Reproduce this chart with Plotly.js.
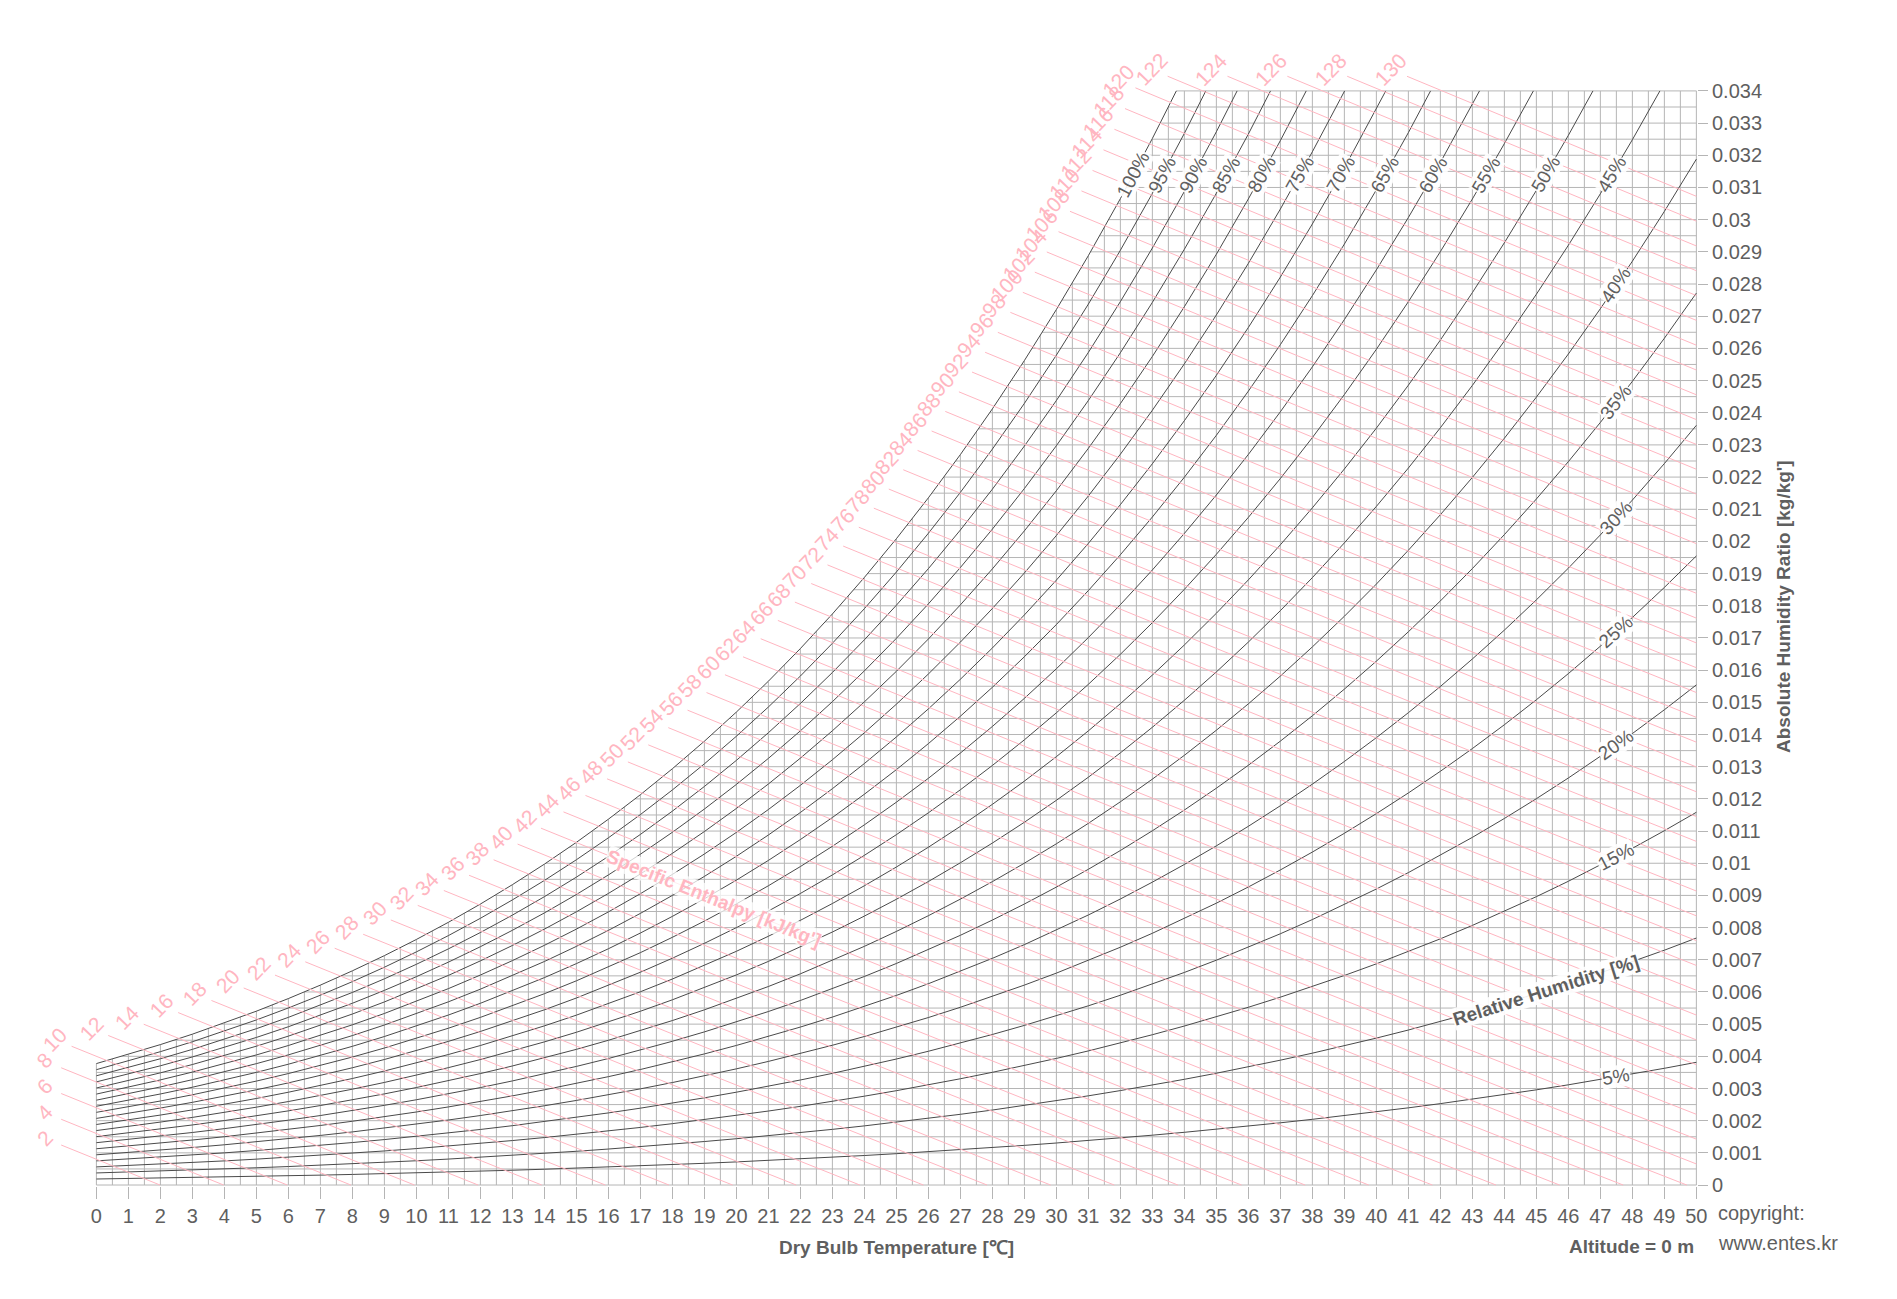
<!DOCTYPE html>
<html>
<head>
<meta charset="utf-8">
<script src="https://cdn.plot.ly/plotly-3.0.1.min.js"></script>
<style>
  html, body { margin: 0; padding: 0; background: #fff; }
  #chart { width: 1897px; height: 1299px; }
</style>
</head>
<body>
<div id="chart"></div>
<script>
/* Psychrometric chart, sea level (101.325 kPa).
 *
 * Saturation pressure is kept as a table per whole degree; every curve is
 * built from it with the usual humidity-ratio and enthalpy relations.
 */

// dry bulb temperatures of the table [°C]
const TEMPS = [
  0, 1, 2, 3, 4, 5, 6, 7, 8, 9, 10, 11, 12, 13, 14, 15, 16, 17, 18, 19, 20,
  21, 22, 23, 24, 25, 26, 27, 28, 29, 30, 31, 32, 33, 34, 35, 36, 37, 38, 39,
  40, 41, 42, 43, 44, 45, 46, 47, 48, 49, 50,
];

// saturation vapour pressure at those temperatures [kPa]
const SAT_PRESSURE = [
  0.6112, 0.6571, 0.7060, 0.7581, 0.8135, 0.8726, 0.9354, 1.0021, 1.0730,
  1.1482, 1.2282, 1.3129, 1.4028, 1.4981, 1.5989, 1.7057, 1.8188, 1.9383,
  2.0647, 2.1982, 2.3392, 2.4881, 2.6452, 2.8109, 2.9856, 3.1697, 3.3637,
  3.5679, 3.7828, 4.0089, 4.2467, 4.4966, 4.7592, 5.0351, 5.3247, 5.6286,
  5.9475, 6.2818, 6.6324, 6.9997, 7.3844, 7.7873, 8.2090, 8.6503, 9.1118,
  9.5944, 10.0988, 10.6259, 11.1764, 11.7512, 12.3513,
];

const RH_LEVELS = [5, 10, 15, 20, 25, 30, 35, 40, 45, 50, 55, 60, 65, 70, 75, 80, 85, 90, 95, 100];

const ENTHALPY_LEVELS = [
  2, 4, 6, 8, 10, 12, 14, 16, 18, 20, 22, 24, 26, 28, 30, 32, 34, 36, 38, 40,
  42, 44, 46, 48, 50, 52, 54, 56, 58, 60, 62, 64, 66, 68, 70, 72, 74, 76, 78,
  80, 82, 84, 86, 88, 90, 92, 94, 96, 98, 100, 102, 104, 106, 108, 110, 112,
  114, 116, 118, 120, 122, 124, 126, 128, 130,
];

const RATIO_TICKS = [
  0, 0.001, 0.002, 0.003, 0.004, 0.005, 0.006, 0.007, 0.008, 0.009, 0.01,
  0.011, 0.012, 0.013, 0.014, 0.015, 0.016, 0.017, 0.018, 0.019, 0.02, 0.021,
  0.022, 0.023, 0.024, 0.025, 0.026, 0.027, 0.028, 0.029, 0.03, 0.031, 0.032,
  0.033, 0.034,
];
const RATIO_TICK_TEXT = RATIO_TICKS.map((v) => String(v));

const PRESSURE = 101.325;
const W_TOP = 0.034;
const T_MAX = 50;

// --- page geometry ---
const WIDTH = 1897;
const HEIGHT = 1299;
const MARGIN = { l: 26, r: 200, t: 33, b: 113, pad: 0 };
const X_RANGE = [-2.2, 50.02];
const Y_RANGE = [-0.00003, 0.0358];
const PX_C = (WIDTH - MARGIN.l - MARGIN.r) / (X_RANGE[1] - X_RANGE[0]);
const PX_W = (HEIGHT - MARGIN.t - MARGIN.b) / (Y_RANGE[1] - Y_RANGE[0]);

// the original uses a narrow Arial; Liberation Sans is the closest installed
const FONT = "'Liberation Sans', Arial, sans-serif";
const SIZE = 19;
const TEXT = "#5f5f5f";
const GRID = "#b5b5b5";
const PINK = "#ffb6c1";
const RH_LINE = "#4a4a4a";

function ratio(pw) {
  return 0.621945 * pw / (PRESSURE - pw);
}
function enthalpy(t, w) {
  return 1.006 * t + w * (2501 + 1.86 * t);
}

// one RH curve, cut where it leaves the top of the chart
function rhCurve(rh) {
  const xs = [], ys = [];
  for (let i = 0; i < TEMPS.length; i++) {
    const w = ratio(rh / 100 * SAT_PRESSURE[i]);
    if (w > W_TOP) {
      if (i > 0) {
        const w0 = ys[ys.length - 1];
        const s = (W_TOP - w0) / (w - w0);
        xs.push(TEMPS[i - 1] + s * (TEMPS[i] - TEMPS[i - 1]));
        ys.push(W_TOP);
      }
      break;
    }
    xs.push(TEMPS[i]);
    ys.push(w);
  }
  return { x: xs, y: ys };
}

const curves = RH_LEVELS.map(rhCurve);
const sat = curves[curves.length - 1];

// where an enthalpy line leaves the chart on the upper-left side
function enthalpyStart(h) {
  if (h <= enthalpy(sat.x[0], sat.y[0])) {
    return { t: 0, w: h / 2501 };
  }
  for (let i = 1; i < sat.x.length; i++) {
    const h0 = enthalpy(sat.x[i - 1], sat.y[i - 1]);
    const h1 = enthalpy(sat.x[i], sat.y[i]);
    if (h <= h1) {
      const s = (h - h0) / (h1 - h0);
      return {
        t: sat.x[i - 1] + s * (sat.x[i] - sat.x[i - 1]),
        w: sat.y[i - 1] + s * (sat.y[i] - sat.y[i - 1]),
      };
    }
  }
  return { t: (h - W_TOP * 2501) / (1.006 + W_TOP * 1.86), w: W_TOP };
}

const traces = [];

// grid: 0.5 °C by 0.0005 kg/kg'
(function () {
  const xs = [], ys = [];
  for (let k = 0; k <= T_MAX * 2; k++) {
    xs.push(k / 2, k / 2, null);
    ys.push(0, W_TOP, null);
  }
  for (let j = 0; j <= 68; j++) {
    xs.push(0, T_MAX, null);
    ys.push(j * 0.0005, j * 0.0005, null);
  }
  traces.push({
    x: xs, y: ys, type: "scatter", mode: "lines",
    line: { color: GRID, width: 1 }, hoverinfo: "skip", showlegend: false,
  });
})();

// blank out the grid above the saturation curve
(function () {
  const last = sat.x.length - 1;
  const xs = [-0.15].concat(sat.x, [sat.x[last], -0.15]);
  const ys = [sat.y[0]].concat(sat.y, [W_TOP + 0.0002, W_TOP + 0.0002]);
  traces.push({
    x: xs, y: ys, type: "scatter", mode: "lines", fill: "toself",
    fillcolor: "#ffffff", line: { width: 0, color: "#ffffff" },
    hoverinfo: "skip", showlegend: false,
  });
})();

// relative humidity curves
curves.forEach(function (c) {
  traces.push({
    x: c.x, y: c.y, type: "scatter", mode: "lines",
    line: { color: RH_LINE, width: 1 }, hoverinfo: "skip", showlegend: false,
  });
});

const annotations = [];

// enthalpy lines, stretched a little past the chart edge to their label
const EXT_PX = 38;
const LABEL_PX = 18;
ENTHALPY_LEVELS.forEach(function (h) {
  const start = enthalpyStart(h);
  const slope = -(1.006 + 1.86 * start.w) / (2501 + 1.86 * start.t);
  const unit = Math.hypot(PX_C, slope * PX_W);
  const dt = EXT_PX / unit;
  const xs = [start.t - dt];
  const ys = [start.w - slope * dt];
  xs.push(start.t);
  ys.push(start.w);
  const tEnd = Math.min(h / 1.006, T_MAX);
  for (let t = Math.floor(start.t) + 1; t < tEnd; t++) {
    xs.push(t);
    ys.push((h - 1.006 * t) / (2501 + 1.86 * t));
  }
  xs.push(tEnd);
  ys.push(Math.max(0, (h - 1.006 * tEnd) / (2501 + 1.86 * tEnd)));
  traces.push({
    x: xs, y: ys, type: "scatter", mode: "lines",
    line: { color: PINK, width: 1 }, hoverinfo: "skip", showlegend: false,
  });

  const dl = (EXT_PX + LABEL_PX) / unit;
  annotations.push({
    x: start.t - dl, y: start.w - slope * dl, xref: "x", yref: "y",
    xanchor: "center", yanchor: "middle",
    text: String(h), showarrow: false, textangle: -46,
    font: { family: FONT, size: SIZE + 2, color: PINK },
  });
});

// RH labels: on W = 0.0314 where the curve gets there, else at 47.5 °C;
// the 10 % curve carries the axis name instead, a little further left
const LABEL_W = 0.0314;
const LABEL_T = 47.5;
const TITLE_T = 45.3;
curves.forEach(function (c, idx) {
  const rh = RH_LEVELS[idx];
  const isTitle = rh === 10;
  const tMax = isTitle ? TITLE_T : LABEL_T;
  let i = 1;
  while (i < c.x.length - 1 && c.y[i] < LABEL_W && c.x[i] < tMax) {
    i++;
  }
  const x0 = c.x[i - 1], x1 = c.x[i], y0 = c.y[i - 1], y1 = c.y[i];
  let t = tMax;
  if (y1 >= LABEL_W) {
    t = Math.min(tMax, x0 + (LABEL_W - y0) / (y1 - y0) * (x1 - x0));
  }
  const w = y0 + (t - x0) / (x1 - x0) * (y1 - y0);
  const angle = Math.atan(((y1 - y0) * PX_W) / ((x1 - x0) * PX_C)) * 180 / Math.PI;
  annotations.push({
    x: t, y: w, xref: "x", yref: "y", xanchor: "center", yanchor: "middle",
    text: isTitle ? "<b>Relative Humidity [%]</b>" : rh + "%",
    showarrow: false, textangle: -angle,
    bgcolor: "rgba(255,255,255,0.9)", borderpad: 0,
    font: { family: FONT, size: SIZE, color: TEXT },
  });
});

// enthalpy title, laid along the 42 kJ/kg line
(function () {
  const h = 42, t = 19.3;
  const w = (h - 1.006 * t) / (2501 + 1.86 * t);
  const slope = -(1.006 + 1.86 * w) / (2501 + 1.86 * t);
  const angle = Math.atan((-slope * PX_W) / PX_C) * 180 / Math.PI;
  annotations.push({
    x: t, y: w, xref: "x", yref: "y", xanchor: "center", yanchor: "middle",
    text: "<b>Specific Enthalpy [kJ/kg']</b>", showarrow: false, textangle: angle,
    bgcolor: "rgba(255,255,255,0.75)", borderpad: 0,
    font: { family: FONT, size: SIZE, color: PINK },
  });
})();

function px(xPx) {
  return (xPx - MARGIN.l) / (WIDTH - MARGIN.l - MARGIN.r);
}
function py(yPx) {
  return 1 - (yPx - MARGIN.t) / (HEIGHT - MARGIN.t - MARGIN.b);
}

annotations.push(
  {
    x: 25, xref: "x", xanchor: "center", y: py(1247), yref: "paper", yanchor: "middle",
    showarrow: false, text: "<b>Dry Bulb Temperature [℃]</b>",
    font: { family: FONT, size: SIZE, color: TEXT },
  },
  {
    x: T_MAX, xref: "x", xanchor: "right", y: py(1246), yref: "paper", yanchor: "middle",
    showarrow: false, text: "<b>Altitude = 0 m</b>",
    font: { family: FONT, size: SIZE, color: TEXT },
  },
  {
    x: px(1783), xref: "paper", xanchor: "center", y: py(606), yref: "paper", yanchor: "middle",
    showarrow: false, text: "<b>Absolute Humidity Ratio [kg/kg']</b>", textangle: -90,
    font: { family: FONT, size: SIZE, color: TEXT },
  },
  {
    x: px(1716), xref: "paper", xanchor: "left", y: py(1213), yref: "paper", yanchor: "middle",
    showarrow: false, text: "copyright:", font: { family: FONT, size: SIZE + 1, color: TEXT },
  },
  {
    x: px(1716), xref: "paper", xanchor: "left", y: py(1243), yref: "paper", yanchor: "middle",
    showarrow: false, text: "www.entes.kr", font: { family: FONT, size: SIZE + 1, color: TEXT },
  }
);

const layout = {
  width: WIDTH,
  height: HEIGHT,
  margin: MARGIN,
  paper_bgcolor: "#ffffff",
  plot_bgcolor: "#ffffff",
  showlegend: false,
  font: { family: FONT, size: SIZE, color: TEXT },
  xaxis: {
    range: X_RANGE, tickmode: "array", tickvals: TEMPS,
    ticks: "outside", ticklen: 12, tickwidth: 1, tickcolor: GRID,
    showgrid: false, zeroline: false, showline: false, fixedrange: true,
    tickfont: { family: FONT, size: SIZE + 1, color: TEXT },
  },
  yaxis: {
    range: Y_RANGE, side: "right", tickmode: "array",
    tickvals: RATIO_TICKS, ticktext: RATIO_TICK_TEXT,
    ticks: "outside", ticklen: 10, tickwidth: 1, tickcolor: GRID,
    showgrid: false, zeroline: false, showline: false, fixedrange: true,
    tickfont: { family: FONT, size: SIZE + 1, color: TEXT },
  },
  annotations: annotations,
};

Plotly.newPlot("chart", traces, layout, { displayModeBar: false, staticPlot: true });
</script>
</body>
</html>
